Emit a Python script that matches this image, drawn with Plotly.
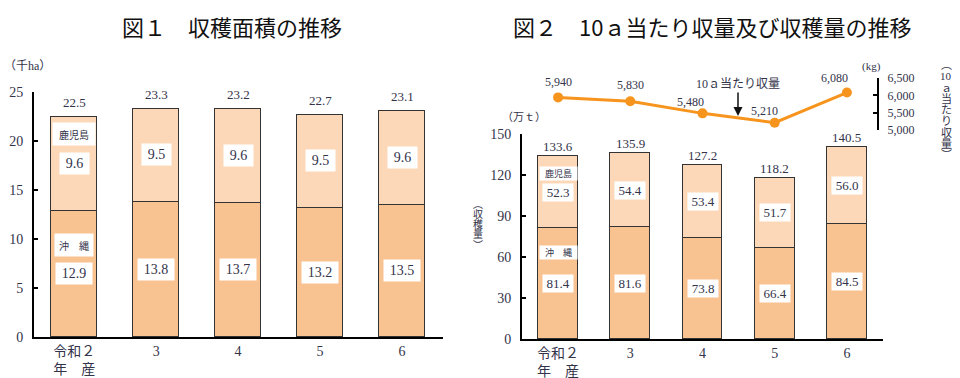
import plotly.graph_objects as go

# ---------------- data ----------------
years = ["令和２<br>年　産", "3", "4", "5", "6"]
area_okinawa = [12.9, 13.8, 13.7, 13.2, 13.5]        # 千ha
area_kagoshima = [9.6, 9.5, 9.6, 9.5, 9.6]           # 千ha
area_total = [22.5, 23.3, 23.2, 22.7, 23.1]          # 千ha
harvest_okinawa = [81.4, 81.6, 73.8, 66.4, 84.5]     # 万t
harvest_kagoshima = [52.3, 54.4, 53.4, 51.7, 56.0]   # 万t
harvest_total = [133.6, 135.9, 127.2, 118.2, 140.5]  # 万t
yield_10a = [5940, 5830, 5480, 5210, 6080]           # kg

# ---------------- styling ----------------
W, H = 960, 378
C_LOW = "#F8C291"
C_UP = "#FCD8B8"
C_LINE = "#F7941D"
TXT = "#33334a"
SERIF = "Liberation Serif, Noto Sans CJK JP"
SANS = "Noto Sans CJK JP"


def fx(px):
    return px / W


def fy(py):
    return 1 - py / H


fig = go.Figure()

# chart 1 bars
fig.add_trace(go.Bar(x=years, y=area_okinawa, xaxis="x", yaxis="y", width=0.56,
                     marker=dict(color=C_LOW, line=dict(color="#333", width=1)),
                     name="沖縄", showlegend=False, hoverinfo="skip"))
fig.add_trace(go.Bar(x=years, y=area_kagoshima, xaxis="x", yaxis="y", width=0.56,
                     marker=dict(color=C_UP, line=dict(color="#333", width=1)),
                     name="鹿児島", showlegend=False, hoverinfo="skip"))
# chart 2 bars
fig.add_trace(go.Bar(x=years, y=harvest_okinawa, xaxis="x2", yaxis="y2", width=0.553,
                     marker=dict(color=C_LOW, line=dict(color="#333", width=1)),
                     name="沖縄", showlegend=False, hoverinfo="skip"))
fig.add_trace(go.Bar(x=years, y=harvest_kagoshima, xaxis="x2", yaxis="y2", width=0.553,
                     marker=dict(color=C_UP, line=dict(color="#333", width=1)),
                     name="鹿児島", showlegend=False, hoverinfo="skip"))
# chart 2 line
fig.add_trace(go.Scatter(x=years, y=yield_10a, xaxis="x2", yaxis="y3",
                         mode="lines+markers", cliponaxis=False,
                         line=dict(color=C_LINE, width=3),
                         marker=dict(color=C_LINE, size=10),
                         showlegend=False, hoverinfo="skip"))

ann = []


def val_box(x, y, text, xref, yref, size, h, wfac, pad):
    ann.append(dict(x=x, y=y, xref=xref, yref=yref, text=text, showarrow=False,
                    bgcolor="white", font=dict(family=SERIF, size=size, color=TXT),
                    width=wfac * len(text) + pad, height=h, borderpad=0,
                    xanchor="center", yanchor="middle"))


def paper_text(px, py, text, size, family=SERIF, color=TXT):
    ann.append(dict(x=fx(px), y=fy(py), xref="paper", yref="paper", text=text,
                    showarrow=False, xanchor="center", yanchor="middle",
                    font=dict(family=family, size=size, color=color)))


for i in range(len(years)):
    lo, up = area_okinawa[i], area_kagoshima[i]
    val_box(i, lo / 2, f"{lo:.1f}", "x", "y", 14, 21, 7, 8)
    val_box(i, lo + up / 2, f"{up:.1f}", "x", "y", 14, 21, 7, 8)
    ann.append(dict(x=i, y=lo + up, xref="x", yref="y", text=f"{area_total[i]:.1f}",
                    showarrow=False, yanchor="bottom", yshift=4,
                    font=dict(family=SERIF, size=13, color=TXT)))
    lo2, up2 = harvest_okinawa[i], harvest_kagoshima[i]
    val_box(i, lo2 / 2, f"{lo2:.1f}", "x2", "y2", 13, 17, 6, 6)
    val_box(i, lo2 + up2 / 2, f"{up2:.1f}", "x2", "y2", 13, 17, 6, 6)
    ann.append(dict(x=i, y=lo2 + up2, xref="x2", yref="y2", text=f"{harvest_total[i]:.1f}",
                    showarrow=False, yanchor="bottom", yshift=0,
                    font=dict(family=SERIF, size=13, color=TXT)))

# line value labels
line_dx = [0, 0, -12, -10, -12]
line_dy = [15, 16, 11, 12, 15]
for i in range(len(years)):
    ann.append(dict(x=i, y=yield_10a[i], xref="x2", yref="y3", text=f"{yield_10a[i]:,}",
                    showarrow=False, xshift=line_dx[i], yshift=line_dy[i],
                    font=dict(family=SERIF, size=12, color=TXT)))

# series name boxes
ann.append(dict(x=0, y=20.7, xref="x", yref="y", text="鹿児島", showarrow=False,
                bgcolor="white", width=42, height=22, borderpad=0,
                font=dict(family=SANS, size=10, color=TXT)))
ann.append(dict(x=0, y=9.4, xref="x", yref="y", text="沖　縄", showarrow=False,
                bgcolor="white", width=38, height=22, borderpad=0,
                font=dict(family=SANS, size=10, color=TXT)))
ann.append(dict(x=0, y=121.4, xref="x2", yref="y2", text="鹿児島", showarrow=False,
                bgcolor="white", width=37, height=13, borderpad=0,
                font=dict(family=SANS, size=9, color=TXT)))
ann.append(dict(x=0, y=63, xref="x2", yref="y2", text="沖　縄", showarrow=False,
                bgcolor="white", width=37, height=13, borderpad=0,
                font=dict(family=SANS, size=9, color=TXT)))

# titles
paper_text(232, 26, "図１　収穫面積の推移", 22, SANS, "#111")
paper_text(712, 26, "図２　10ａ当たり収量及び収穫量の推移", 22, SANS, "#111")

# unit labels
paper_text(27, 66, "（千ha）", 12)
paper_text(524, 117, "（万ｔ）", 11)
paper_text(871, 67, "(kg)", 11)

# arrow annotation
ann.append(dict(x=fx(738), y=fy(116), xref="paper", yref="paper", text="10ａ当たり収量",
                showarrow=True, ax=0, ay=-32, arrowhead=2, arrowsize=1.2, arrowwidth=1.5,
                arrowcolor="#111", xanchor="center", yanchor="middle",
                font=dict(family=SERIF, size=12, color=TXT)))

# vertical axis titles
for k, ch in enumerate(["︵", "10", "ａ", "当", "た", "り", "収", "量", "︶"]):
    paper_text(946, 65 + k * 11.3, ch, 11)
for k, ch in enumerate(["︵", "収", "穫", "量", "︶"]):
    paper_text(478, 204 + k * 10.3, ch, 10)

xcommon = dict(type="category", categoryorder="array", categoryarray=years,
               showline=True, linecolor="#000", linewidth=2, ticks="", showgrid=False,
               zeroline=False, automargin=False,
               tickfont=dict(family=SERIF, size=14, color=TXT))
ycommon = dict(showline=True, linecolor="#000", linewidth=2, ticks="inside", ticklen=4,
               tickwidth=2, tickcolor="#000", showgrid=False, zeroline=False,
               automargin=False,
               tickfont=dict(family=SERIF, size=14, color=TXT), ticklabelstandoff=6)

fig.update_layout(
    template="none",
    width=W, height=H, autosize=False,
    margin=dict(l=0, r=0, t=0, b=0, pad=0),
    paper_bgcolor="white", plot_bgcolor="rgba(0,0,0,0)",
    barmode="stack", bargap=0,
    xaxis=dict(xcommon, domain=[fx(34), fx(443)], anchor="y", range=[-0.49, 4.5]),
    yaxis=dict(ycommon, domain=[fy(337), fy(91.7)], anchor="x", range=[0, 25], dtick=5),
    xaxis2=dict(xcommon, domain=[fx(522), fx(883)], anchor="y2", range=[-0.5, 4.5]),
    yaxis2=dict(ycommon, domain=[fy(339), fy(134)], anchor="x2", range=[0, 150], dtick=30),
    yaxis3=dict(ycommon, domain=[fy(130), fy(78)], anchor="free", position=fx(878),
                side="right", range=[5000, 6500], dtick=500, tickformat=",",
                tickfont=dict(family=SERIF, size=12, color=TXT)),
    annotations=ann,
)

fig.write_html("out.html", config={"displayModeBar": False},
               post_script="document.body.style.margin='0';document.body.style.overflow='hidden';")
